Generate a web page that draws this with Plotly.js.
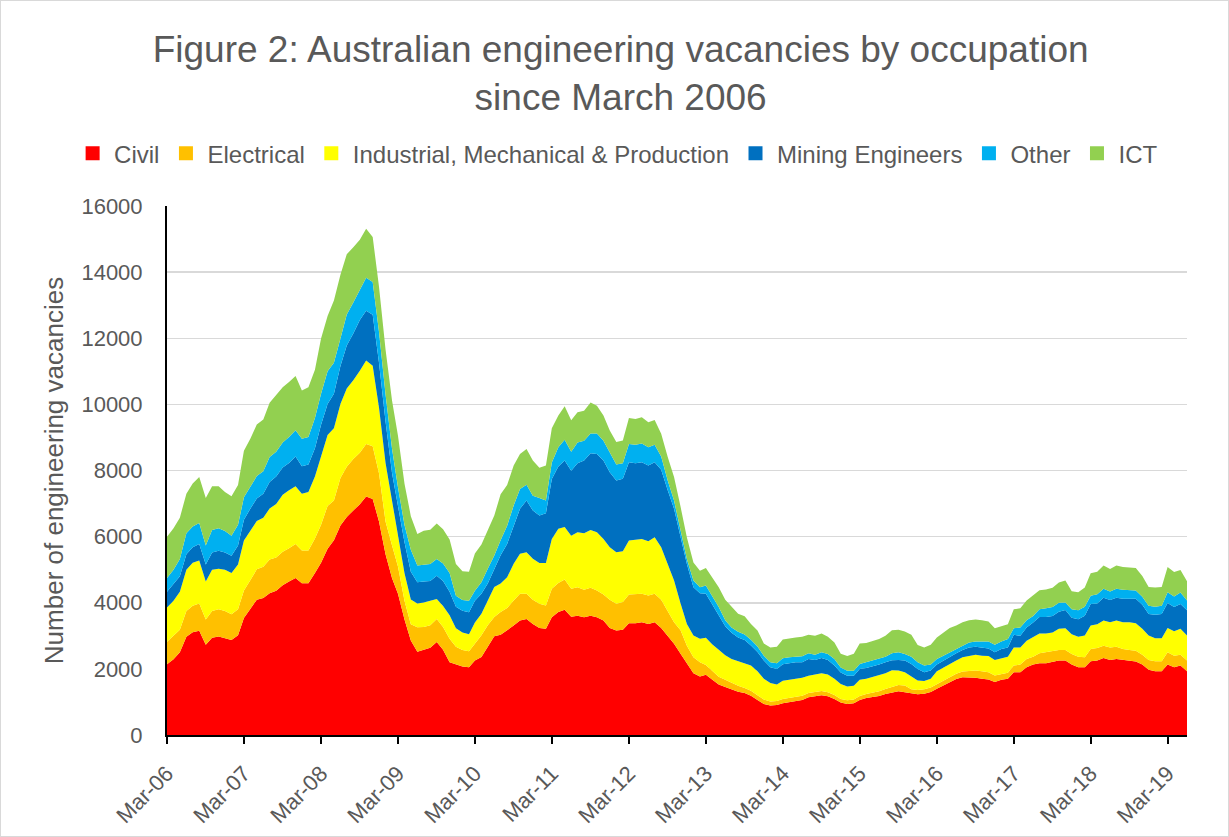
<!DOCTYPE html>
<html>
<head>
<meta charset="utf-8">
<script src="https://cdn.plot.ly/plotly-3.0.1.min.js"></script>
<style>
  html, body { margin: 0; padding: 0; background: #ffffff; }
  #frame { width: 1229px; height: 837px; box-sizing: border-box; border: 1px solid #d9d9d9; }
  #chart { width: 1227px; height: 835px; }
</style>
</head>
<body>
<div id="frame"><div id="chart"></div></div>
<script>
// Monthly series, March 2006 to June 2019
const startYear = 2006;
const startMonth = 3;

const civil = [
  2140,2290,2500,2970,3110,3150,2730,2940,2980,2920,2870,3020,
  3540,3820,4090,4140,4290,4360,4530,4640,4750,4590,4590,4900,
  5210,5630,5890,6340,6590,6790,6980,7210,7140,6460,5470,4740,
  4270,3490,2860,2520,2580,2640,2810,2580,2200,2130,2070,2050,
  2250,2360,2660,2990,3030,3160,3310,3460,3510,3360,3240,3210,
  3560,3720,3790,3580,3610,3560,3610,3560,3460,3240,3160,3180,
  3380,3380,3410,3360,3410,3240,3010,2760,2460,2150,1870,1770,
  1820,1670,1530,1450,1370,1310,1270,1190,1060,940,890,910,
  960,990,1020,1060,1140,1180,1200,1170,1090,980,940,960,
  1060,1120,1150,1180,1240,1280,1320,1290,1250,1230,1250,1300,
  1400,1500,1600,1690,1750,1750,1730,1700,1680,1600,1670,1700,
  1900,1900,2050,2130,2170,2170,2200,2250,2250,2130,2050,2050,
  2230,2250,2330,2270,2300,2270,2250,2220,2130,1970,1930,1930,
  2130,2050,2100,1930
];
const electrical = [
  680,710,680,780,800,830,760,810,820,830,780,780,
  830,870,920,950,1020,1010,1010,1010,1030,990,990,1040,
  1150,1300,1200,1430,1520,1560,1560,1590,1590,1460,990,990,
  830,570,490,740,690,680,700,690,710,540,500,480,
  500,660,660,580,690,680,760,810,760,730,730,710,
  860,880,910,840,860,830,840,810,790,850,810,840,
  870,870,860,860,860,850,710,650,710,550,480,430,
  300,280,230,220,200,180,150,150,140,130,120,120,
  130,130,130,130,130,130,130,120,120,110,110,110,
  120,120,130,140,150,180,190,210,130,130,130,140,
  140,140,150,160,170,180,220,230,220,200,180,180,
  200,230,250,240,300,330,320,320,320,320,320,300,
  370,380,370,380,370,330,320,330,300,300,300,300,
  370,350,330,320
];
const industrial = [
  1040,1060,1150,1250,1300,1300,1150,1250,1230,1250,1250,1360,
  1510,1510,1460,1480,1540,1620,1730,1750,1740,1720,1770,1880,
  2080,2140,2190,2240,2370,2380,2480,2530,2440,1980,1770,1360,
  1040,830,750,720,740,750,600,630,710,560,530,520,
  650,650,760,910,860,930,1110,1210,1260,1240,1230,1280,
  1510,1640,1590,1610,1660,1710,1750,1760,1680,1590,1560,1540,
  1630,1650,1660,1640,1710,1590,1460,1260,810,660,660,710,
  820,790,820,740,730,740,760,760,730,630,560,500,
  550,550,550,540,520,520,540,540,490,450,420,420,
  490,460,470,480,480,500,440,400,400,290,250,260,
  390,390,380,400,430,470,480,470,490,470,480,490,
  550,520,550,580,600,570,580,640,660,600,600,660,
  710,720,760,760,790,810,840,830,780,740,700,700,
  740,740,780,760
];
const mining = [
  470,500,470,470,470,500,520,520,540,520,520,570,
  630,650,680,730,800,830,820,830,900,830,830,850,
  940,940,1040,1150,1300,1410,1530,1500,1540,1360,1250,830,
  830,940,840,640,630,590,710,760,710,650,660,660,
  660,600,500,520,860,1010,1160,1360,1560,1460,1440,1510,
  1810,1880,2010,1960,2090,2200,2320,2370,2370,2270,2170,2190,
  2370,2320,2320,2290,2270,2340,2220,2170,2010,1810,1460,1380,
  1330,1210,1040,880,790,720,690,610,580,550,480,470,
  500,500,500,470,510,440,460,440,400,350,320,300,
  330,330,320,330,330,300,320,350,370,350,270,250,
  200,220,220,220,220,250,240,250,230,230,270,280,
  380,350,400,450,500,500,500,520,550,500,530,600,
  650,630,690,670,690,710,710,740,730,650,710,730,
  750,730,750,760
];
const other = [
  420,440,520,630,630,630,570,680,680,650,610,630,
  680,660,680,680,760,750,760,780,800,830,830,920,
  940,990,940,830,940,940,910,1000,990,940,830,730,
  520,520,660,510,510,510,500,530,570,330,320,350,
  300,350,450,430,450,550,600,600,480,450,530,380,
  500,580,630,580,630,600,600,620,600,600,480,470,
  550,560,570,550,530,400,300,250,200,150,200,180,
  250,240,250,180,160,170,170,170,170,150,150,170,
  180,180,170,180,170,160,170,180,200,150,150,150,
  150,170,180,170,170,210,230,200,220,200,200,180,
  170,150,150,130,150,150,160,180,210,230,230,250,
  200,250,220,200,230,260,270,270,230,250,270,270,
  250,280,270,260,270,270,270,250,240,250,240,250,
  330,320,350,300
];
const ict = [
  1250,1250,1250,1200,1300,1390,1440,1320,1270,1180,1190,1200,
  1410,1460,1560,1560,1640,1700,1670,1670,1640,1460,1510,1460,
  1670,1670,1880,1930,1820,1670,1520,1480,1360,1360,1350,1460,
  1560,1250,1020,950,1030,1040,1080,1030,1010,960,870,880,
  1130,1140,1160,1210,1390,1230,1210,1060,1080,1060,910,1060,
  1040,960,1010,950,910,910,940,840,760,660,680,690,
  790,780,790,760,750,690,710,710,710,650,550,500,
  530,580,600,620,640,550,550,480,480,370,450,500,
  570,580,580,590,560,570,570,520,500,420,450,520,
  620,580,600,600,630,700,680,680,660,520,550,600,
  650,710,740,710,690,670,660,640,600,500,470,450,
  570,580,600,640,580,570,580,610,660,550,550,580,
  680,680,710,680,710,690,670,680,630,570,580,570,
  760,740,680,580
];

const seriesNames = ['Civil', 'Electrical', 'Industrial, Mechanical & Production', 'Mining Engineers', 'Other', 'ICT'];
const seriesColors = ['#FF0000', '#FFC000', '#FFFF00', '#0070C0', '#00B0F0', '#92D050'];
const tickLabels = ['Mar-06','Mar-07','Mar-08','Mar-09','Mar-10','Mar-11','Mar-12','Mar-13','Mar-14','Mar-15','Mar-16','Mar-17','Mar-18','Mar-19'];

function pad(n) { return (n < 10 ? '0' : '') + n; }
const dates = civil.map((_, i) => {
  const m0 = startMonth - 1 + i;
  const y = startYear + Math.floor(m0 / 12);
  const m = (m0 % 12) + 1;
  return y + '-' + pad(m) + '-01';
});
const tickVals = tickLabels.map((_, k) => (startYear + k) + '-03-01');

const allSeries = [civil, electrical, industrial, mining, other, ict];
const areaTraces = allSeries.map((vals, k) => ({
  type: 'scatter',
  mode: 'lines',
  x: dates,
  y: vals,
  name: seriesNames[k],
  stackgroup: 'one',
  line: { width: 0, color: seriesColors[k] },
  fillcolor: seriesColors[k],
  showlegend: false,
  hoverinfo: 'skip'
}));
// legend-only entries with square keys, like the original chart
const keyTraces = seriesNames.map((nm, k) => ({
  type: 'scatter',
  mode: 'markers',
  x: [null],
  y: [null],
  name: nm,
  marker: { symbol: 'square', size: 14, color: seriesColors[k] },
  showlegend: true,
  hoverinfo: 'skip'
}));

const FONT = 'Liberation Sans, Arial, sans-serif';
const GREY = '#595959';

const layout = {
  width: 1227,
  height: 835,
  margin: { l: 166, r: 41, t: 205, b: 101, autoexpand: false },
  paper_bgcolor: '#ffffff',
  plot_bgcolor: '#ffffff',
  font: { family: FONT, color: GREY },
  title: {
    text: 'Figure 2: Australian engineering vacancies by occupation<br>since March 2006',
    font: { family: FONT, size: 37, color: GREY },
    xref: 'container', x: 0.505, xanchor: 'center',
    yref: 'container', y: 0.927, yanchor: 'top'
  },
  showlegend: true,
  legend: {
    orientation: 'h',
    x: -0.094, xanchor: 'left',
    y: 1.099, yanchor: 'middle',
    font: { family: FONT, size: 24, color: GREY },
    traceorder: 'normal',
    itemwidth: 33,
    bgcolor: 'rgba(0,0,0,0)'
  },
  xaxis: {
    type: 'date',
    range: [dates[0], dates[dates.length - 1]],
    tickmode: 'array',
    tickvals: tickVals,
    ticktext: tickLabels,
    tickangle: -45,
    tickfont: { family: FONT, size: 22, color: GREY },
    ticks: 'outside',
    ticklen: 7,
    tickwidth: 2,
    tickcolor: '#000000',
    showline: true,
    linecolor: '#000000',
    linewidth: 2,
    showgrid: false,
    zeroline: false,
    ticklabelstandoff: 8
  },
  yaxis: {
    range: [0, 16000],
    tickmode: 'linear',
    tick0: 0,
    dtick: 2000,
    tickformat: 'd',
    tickfont: { family: FONT, size: 22, color: GREY },
    showline: true,
    linecolor: '#000000',
    linewidth: 2,
    showgrid: true,
    gridcolor: '#d9d9d9',
    gridwidth: 1.5,
    zeroline: false,
    ticks: '',
    ticklabelstandoff: 18,
    title: {
      text: 'Number of engineering vacancies',
      font: { family: FONT, size: 26, color: GREY },
      standoff: 10
    }
  }
};

Plotly.newPlot('chart', areaTraces.concat(keyTraces), layout, { displayModeBar: false, staticPlot: true });
</script>
</body>
</html>
